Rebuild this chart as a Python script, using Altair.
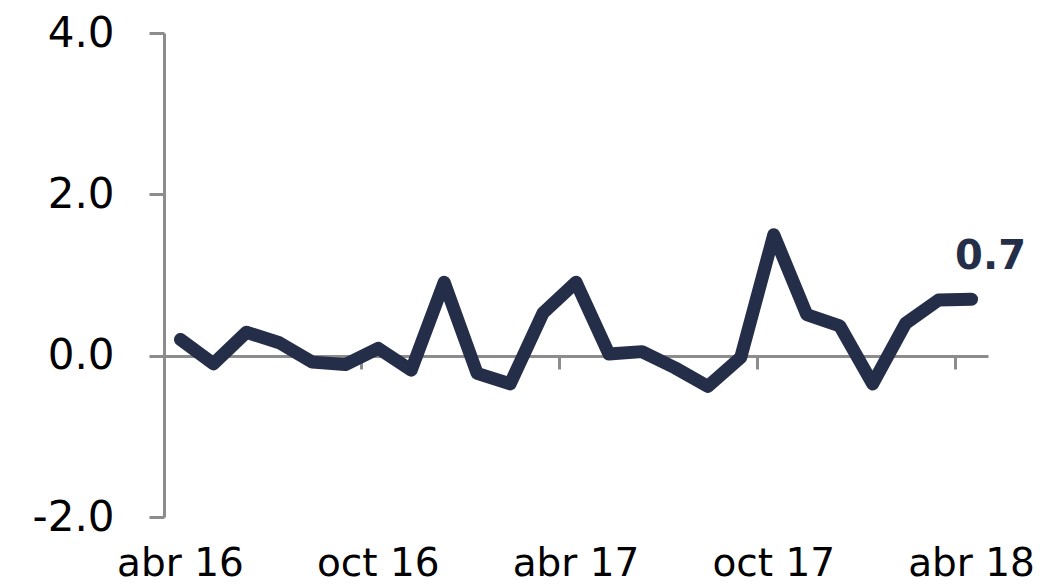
import altair as alt
import pandas as pd

# Monthly series, April 2016 - April 2018
meses = [
    "abr 16", "may 16", "jun 16", "jul 16", "ago 16", "sep 16",
    "oct 16", "nov 16", "dic 16", "ene 17", "feb 17", "mar 17",
    "abr 17", "may 17", "jun 17", "jul 17", "ago 17", "sep 17",
    "oct 17", "nov 17", "dic 17", "ene 18", "feb 18", "mar 18",
    "abr 18",
]
valores = [
    0.20, -0.10, 0.29, 0.16, -0.08, -0.11,
    0.09, -0.18, 0.91, -0.22, -0.35, 0.53,
    0.91, 0.02, 0.05, -0.15, -0.38, -0.02,
    1.50, 0.51, 0.37, -0.35, 0.40, 0.69,
    0.70,
]
etiquetas_x = ["abr 16", "oct 16", "abr 17", "oct 17", "abr 18"]
ticks_y = [-2, 0, 2, 4]

df = pd.DataFrame({"mes": meses, "valor": valores})

LINE = "#252e48"
GRID = "#8c8c8c"
FONT = "DejaVu Sans"

x_enc = alt.X(
    "mes:O",
    sort=meses,
    bandPosition=0.5,
    scale=alt.Scale(type="band", domain=meses, paddingInner=0, paddingOuter=0),
    axis=alt.Axis(
        values=etiquetas_x,
        bandPosition=0,
        offset=-161,
        tickSize=13,
        tickWidth=3,
        tickColor=GRID,
        domainColor=GRID,
        domainWidth=3,
        labelPadding=206,
        labelFont=FONT,
        labelFontSize=39,
        labelColor="black",
        labelAngle=0,
        labelOverlap=False,
        labelBaseline="alphabetic",
        grid=False,
    ),
    title=None,
)

y_enc = alt.Y(
    "valor:Q",
    scale=alt.Scale(domain=[-2, 4], nice=False, zero=False),
    axis=alt.Axis(
        values=ticks_y,
        labelExpr="(datum.value < 0 ? '-' : '') + format(abs(datum.value), '.1f')",
        tickSize=15,
        tickWidth=3,
        tickColor=GRID,
        domainColor=GRID,
        domainWidth=3,
        labelPadding=35,
        labelFont=FONT,
        labelFontSize=42,
        labelColor="black",
        grid=False,
    ),
    title=None,
)

linea = alt.Chart(df).mark_line(
    color=LINE, strokeWidth=13, strokeCap="round", strokeJoin="round"
).encode(x=x_enc, y=y_enc)

ultimo = alt.Chart(df).transform_filter(
    alt.datum.mes == meses[-1]
).mark_text(
    font=FONT, fontSize=40, fontWeight="bold", color=LINE,
    align="center", baseline="middle", dx=19, dy=-42,
).encode(
    x=alt.X("mes:O", sort=meses, bandPosition=0.5),
    y="valor:Q",
    text=alt.Text("valor:Q", format=".1f"),
)

chart = alt.layer(linea, ultimo).properties(
    width=824,
    height=484,
    padding={"left": 164, "top": 33, "right": 67, "bottom": 68},
    autosize="none",
).configure(background="white").configure_view(stroke=None, strokeWidth=0)

chart.save("out.html", embed_options={"renderer": "svg", "actions": False})
